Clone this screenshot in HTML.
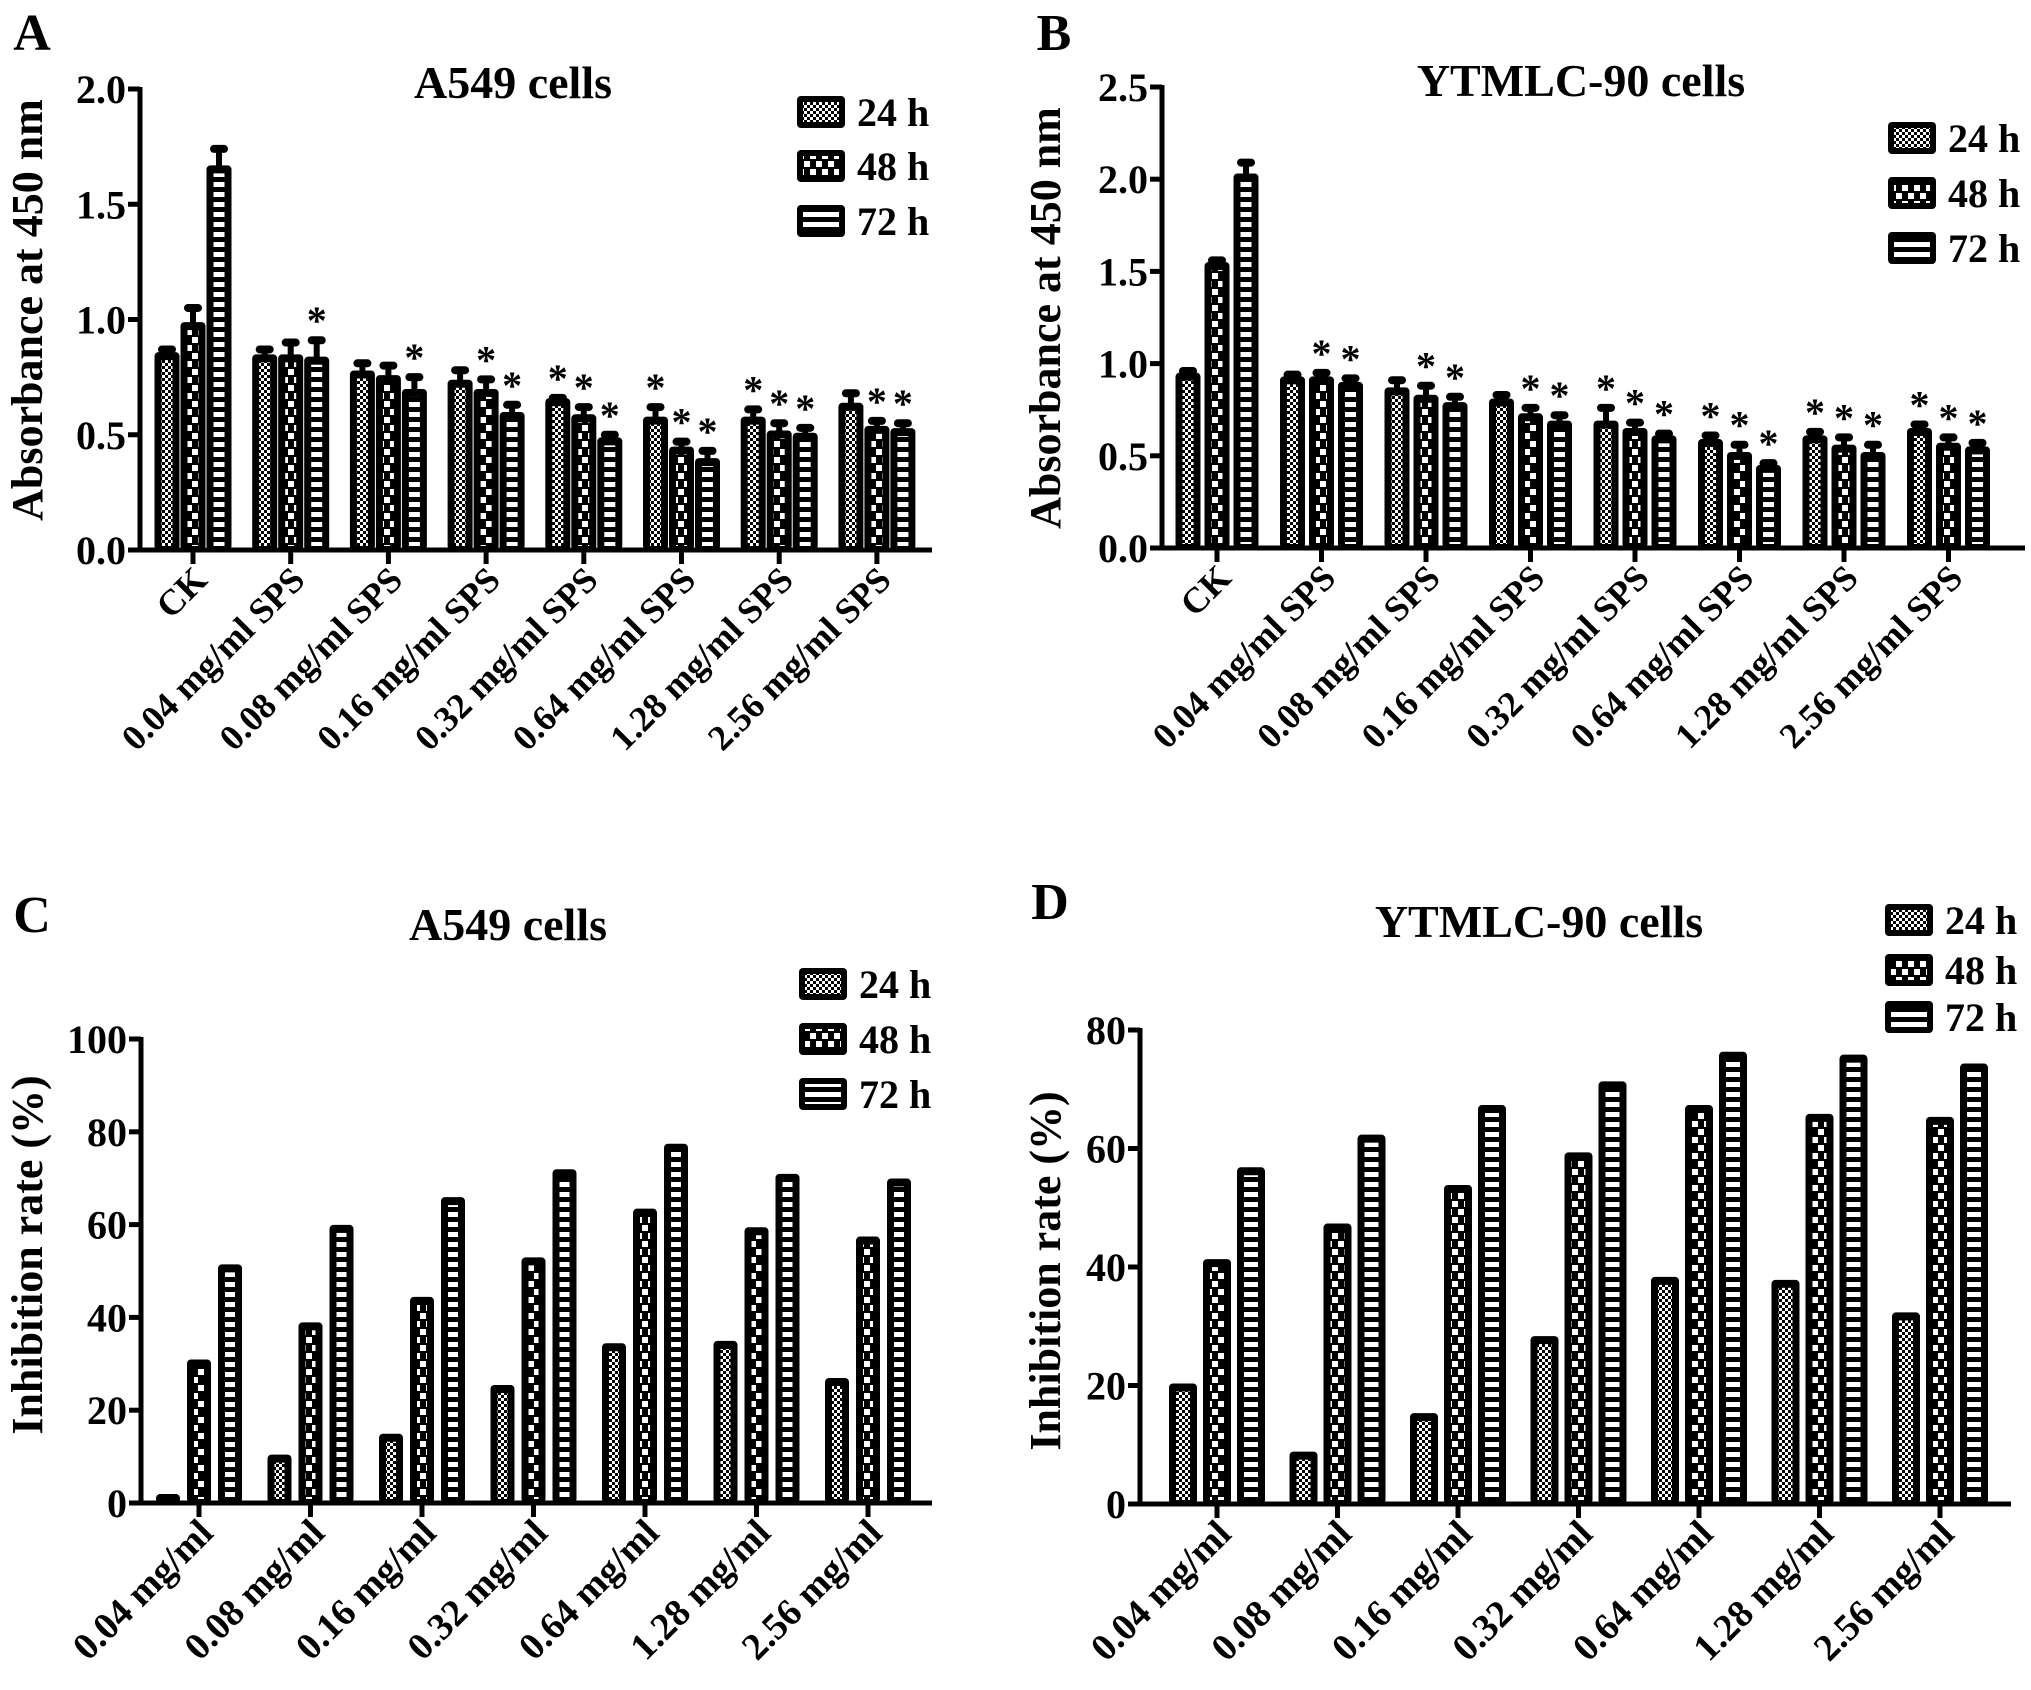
<!DOCTYPE html>
<html><head><meta charset="utf-8"><style>
html,body{margin:0;padding:0;background:#fff;}
svg{display:block;font-family:"Liberation Serif",serif;font-weight:bold;}
</style></head><body>
<svg id="fig" width="2031" height="1690" viewBox="0 0 2031 1690" xmlns="http://www.w3.org/2000/svg">
<defs>
<pattern id="p24" patternUnits="userSpaceOnUse" width="6" height="6"><rect width="6" height="6" fill="#fff"/><rect width="3" height="3" fill="#000"/><rect x="3" y="3" width="3" height="3" fill="#000"/></pattern>
<pattern id="p48" patternUnits="userSpaceOnUse" width="12" height="16"><rect width="12" height="16" fill="#000"/><rect x="0" y="1" width="6" height="6" fill="#fff"/><rect x="6" y="9" width="6" height="6" fill="#fff"/></pattern>
<pattern id="p72" patternUnits="userSpaceOnUse" width="12" height="10"><rect width="12" height="10" fill="#000"/><rect x="0" y="2" width="12" height="5" fill="#fff"/></pattern>
</defs>
</svg>
<script>
// ---- data ----
const seriesNames = ["24 h","48 h","72 h"];
const catsAB = ["CK","0.04 mg/ml SPS","0.08 mg/ml SPS","0.16 mg/ml SPS","0.32 mg/ml SPS","0.64 mg/ml SPS","1.28 mg/ml SPS","2.56 mg/ml SPS"];
const catsCD = ["0.04 mg/ml","0.08 mg/ml","0.16 mg/ml","0.32 mg/ml","0.64 mg/ml","1.28 mg/ml","2.56 mg/ml"];
const ticksA = [0,0.5,1.0,1.5,2.0];
const ticksB = [0,0.5,1.0,1.5,2.0,2.5];
const ticksC = [0,20,40,60,80,100];
const ticksD = [0,20,40,60,80];
const A24 = [0.85,0.84,0.77,0.73,0.65,0.57,0.57,0.63];
const A48 = [0.98,0.84,0.75,0.69,0.58,0.44,0.51,0.53];
const A72 = [1.66,0.83,0.69,0.59,0.48,0.39,0.50,0.52];
const A24err = [0.02,0.03,0.04,0.05,0.01,0.05,0.04,0.05];
const A48err = [0.07,0.06,0.05,0.05,0.04,0.03,0.04,0.03];
const A72err = [0.08,0.08,0.06,0.04,0.02,0.04,0.03,0.03];
const A24star = [0,0,0,0,1,1,1,0];
const A48star = [0,0,0,1,1,1,1,1];
const A72star = [0,1,1,1,1,1,1,1];
const B24 = [0.94,0.92,0.86,0.80,0.68,0.58,0.60,0.64];
const B48 = [1.54,0.92,0.82,0.72,0.64,0.51,0.55,0.56];
const B72 = [2.02,0.89,0.78,0.68,0.60,0.44,0.51,0.54];
const B24err = [0.02,0.02,0.05,0.03,0.08,0.03,0.03,0.03];
const B48err = [0.02,0.03,0.06,0.04,0.04,0.05,0.05,0.04];
const B72err = [0.07,0.03,0.04,0.04,0.02,0.02,0.05,0.03];
const B24star = [0,0,0,0,1,1,1,1];
const B48star = [0,1,1,1,1,1,1,1];
const B72star = [0,1,1,1,1,1,1,1];
const C24 = [1.5,10,14.5,25,34,34.5,26.5];
const C48 = [30.5,38.5,44,52.5,63,59,57];
const C72 = [51,59.5,65.5,71.5,77,70.5,69.5];
const D24 = [20,8.5,15,28,38,37.5,32];
const D48 = [41,47,53.5,59,67,65.5,65];
const D72 = [56.5,62,67,71,76,75.5,74];

const NS="http://www.w3.org/2000/svg";
const svg=document.getElementById('fig');
function el(tag,attrs,parent,txt){const e=document.createElementNS(NS,tag);for(const k in attrs)e.setAttribute(k,attrs[k]);if(txt!==undefined)e.textContent=txt;(parent||svg).appendChild(e);return e;}
const pats=["url(#p24)","url(#p48)","url(#p72)"];

function panel(cfg){
  const g=el('g',{});
  
  
  const yMin=cfg.ticks[0], yMax=cfg.ticks[cfg.ticks.length-1];
  const yS=v=>cfg.y0-(v-yMin)/(yMax-yMin)*(cfg.y0-cfg.yTop);
  const xS=i=>cfg.x1+i*cfg.step;
  let t=el('text',{x:cfg.lx,y:cfg.ly,'font-size':52,'text-anchor':'middle'},g,cfg.id);
  
  
  t=el('text',{x:cfg.tx,y:cfg.ty,'font-size':46,'text-anchor':'middle'},g,cfg.title);
  
  
  t=el('text',{x:0,y:0,'font-size':44,'text-anchor':'middle',transform:`translate(${cfg.ytx},${cfg.yty}) rotate(-90)`},g,cfg.ytitle);
  
  
  cfg.series.forEach((vals,s)=>{
    vals.forEach((v,i)=>{
      const cx=xS(i)+(s-1)*cfg.off, w=cfg.bw, top=yS(v);
      const bg=el('g',{},g);
      
      
      el('rect',{x:cx-w/2,y:top-2,width:w,height:cfg.y0-top+2,rx:4,fill:'#000'},bg);
      const ih=cfg.y0-top-10;
      if(ih>0) el('rect',{x:cx-w/2+7,y:top+6,width:w-14,height:ih,fill:pats[s]},bg);
      if(cfg.errs){
        const e=cfg.errs[s][i], et=yS(v+e);
        el('line',{x1:cx,x2:cx,y1:top,y2:et,stroke:'#000','stroke-width':6},bg);
        el('rect',{x:cx-9,y:et-4,width:18,height:8,rx:4,fill:'#000'},bg);
        if(cfg.stars[s][i]){
          const st=el('text',{x:cx,y:et-6,'font-size':40,'text-anchor':'middle'},g,'*');
          
          
        }
      }
    });
  });
  const ax=el('g',{},g);
  
  
  el('line',{x1:cfg.x0,x2:cfg.x0,y1:cfg.yTop-2,y2:cfg.y0+2,stroke:'#000','stroke-width':5},ax);
  el('line',{x1:cfg.x0-2,x2:cfg.xEnd,y1:cfg.y0,y2:cfg.y0,stroke:'#000','stroke-width':5},ax);
  cfg.ticks.forEach(v=>{
    const y=yS(v);
    el('line',{x1:cfg.x0-12,x2:cfg.x0,y1:y,y2:y,stroke:'#000','stroke-width':5},ax);
    const tl=el('text',{x:cfg.x0-14,y:y+14,'font-size':40,'text-anchor':'end'},ax,cfg.fmt(v));
    
    
  });
  cfg.cats.forEach((c,i)=>{
    const x=xS(i);
    el('line',{x1:x,x2:x,y1:cfg.y0,y2:cfg.y0+14,stroke:'#000','stroke-width':5},ax);
    const tl=el('text',{x:0,y:0,'font-size':cfg.xfs,'text-anchor':'end',transform:`translate(${x+16},${cfg.y0+32}) rotate(-45)`},ax,c);
    
    
  });
  seriesNames.forEach((n,s)=>{
    const lg=el('g',{},g);
    
    
    const y=cfg.legY[s];
    el('rect',{x:cfg.legX,y:y-16,width:48,height:32,rx:4,fill:'#000'},lg);
    el('rect',{x:cfg.legX+6,y:y-10,width:36,height:20,fill:pats[s]},lg);
    el('text',{x:cfg.legX+60,y:y+14,'font-size':40},lg,n);
  });
}
const f1=v=>v.toFixed(1), f0=v=>String(v);
panel({id:'A',title:'A549 cells',ytitle:'Absorbance at 450 nm',cats:catsAB,ticks:ticksA,fmt:f1,
 series:[A24,A48,A72],errs:[A24err,A48err,A72err],stars:[A24star,A48star,A72star],
 x0:140,xEnd:932,y0:550,yTop:89,x1:193,step:97.7,off:26,bw:25,xfs:36,
 lx:32,ly:50,tx:513,ty:98,ytx:42,yty:310,legX:797,legY:[112,166,221]});
panel({id:'B',title:'YTMLC-90 cells',ytitle:'Absorbance at 450 nm',cats:catsAB,ticks:ticksB,fmt:f1,
 series:[B24,B48,B72],errs:[B24err,B48err,B72err],stars:[B24star,B48star,B72star],
 x0:1162,xEnd:2025,y0:548,yTop:87,x1:1217,step:104.5,off:29,bw:25,xfs:36,
 lx:1054,ly:50,tx:1581,ty:96,ytx:1060,yty:318,legX:1888,legY:[138,193,248]});
panel({id:'C',title:'A549 cells',ytitle:'Inhibition rate (%)',cats:catsCD,ticks:ticksC,fmt:f0,
 series:[C24,C48,C72],stars:null,
 x0:141,xEnd:932,y0:1503,yTop:1039,x1:199,step:111.5,off:31,bw:24,xfs:38,
 lx:32,ly:932,tx:508,ty:940,ytx:42,yty:1255,legX:799,legY:[984,1039,1094]});
panel({id:'D',title:'YTMLC-90 cells',ytitle:'Inhibition rate (%)',cats:catsCD,ticks:ticksD,fmt:f0,
 series:[D24,D48,D72],stars:null,
 x0:1140,xEnd:2011,y0:1504,yTop:1030,x1:1217,step:120.5,off:34,bw:28,xfs:38,
 lx:1050,ly:919,tx:1539,ty:937,ytx:1060,yty:1271,legX:1885,legY:[920,970,1017]});
</script>
</body></html>
